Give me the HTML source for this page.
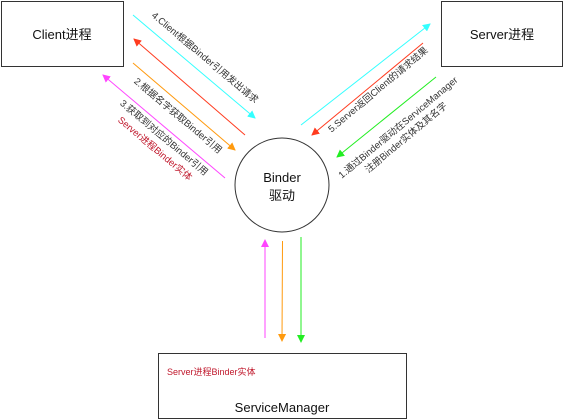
<!DOCTYPE html>
<html><head><meta charset="utf-8"><style>
html,body{margin:0;padding:0;background:#fff;}
svg{display:block;font-family:"Liberation Sans","Noto Sans CJK SC",sans-serif;}
</style></head><body>
<svg width="564" height="420" viewBox="0 0 564 420" xmlns="http://www.w3.org/2000/svg">
<defs>
<marker id="ac" markerWidth="8" markerHeight="8" refX="7" refY="4" orient="auto" markerUnits="userSpaceOnUse"><path d="M0,0 L8,4 L0,8 Z" fill="#33ffff"/></marker>
<marker id="ar" markerWidth="8" markerHeight="8" refX="7" refY="4" orient="auto" markerUnits="userSpaceOnUse"><path d="M0,0 L8,4 L0,8 Z" fill="#ff3b1f"/></marker>
<marker id="ao" markerWidth="8" markerHeight="8" refX="7" refY="4" orient="auto" markerUnits="userSpaceOnUse"><path d="M0,0 L8,4 L0,8 Z" fill="#ff9a0e"/></marker>
<marker id="am" markerWidth="8" markerHeight="8" refX="7" refY="4" orient="auto" markerUnits="userSpaceOnUse"><path d="M0,0 L8,4 L0,8 Z" fill="#ff44ff"/></marker>
<marker id="ag" markerWidth="8" markerHeight="8" refX="7" refY="4" orient="auto" markerUnits="userSpaceOnUse"><path d="M0,0 L8,4 L0,8 Z" fill="#22ee22"/></marker>
</defs>
<g fill="none" stroke="#333" stroke-width="1">
<rect x="1.5" y="1.5" width="122" height="65"/>
<rect x="441.5" y="1.5" width="121" height="65"/>
<rect x="158.5" y="353.5" width="248" height="65"/>
<circle cx="282" cy="185" r="47"/>
</g>
<g font-size="13" fill="#111" text-anchor="middle">
<text x="62" y="39">Client进程</text>
<text x="502" y="39">Server进程</text>
<text x="282" y="182">Binder</text>
<text x="282" y="200">驱动</text>
<text x="282" y="412">ServiceManager</text>
</g>
<text x="167" y="375" font-size="9" fill="#c0182c">Server进程Binder实体</text>
<g stroke-width="1" fill="none">
<line x1="133" y1="15" x2="255" y2="118" stroke="#33ffff" marker-end="url(#ac)"/>
<line x1="245" y1="135" x2="134" y2="39" stroke="#ff3b1f" marker-end="url(#ar)"/>
<line x1="133" y1="63" x2="235" y2="150" stroke="#ff9a0e" marker-end="url(#ao)"/>
<line x1="225" y1="178" x2="103" y2="75" stroke="#ff44ff" marker-end="url(#am)"/>
<line x1="301" y1="125" x2="430" y2="24" stroke="#33ffff" marker-end="url(#ac)"/>
<line x1="423" y1="43" x2="312" y2="135" stroke="#ff3b1f" marker-end="url(#ar)"/>
<line x1="436" y1="77" x2="337" y2="157" stroke="#22ee22" marker-end="url(#ag)"/>
<line x1="265" y1="338" x2="265" y2="240" stroke="#ff44ff" marker-end="url(#am)"/>
<line x1="282.5" y1="241" x2="282" y2="341" stroke="#ff9a0e" marker-end="url(#ao)"/>
<line x1="301" y1="237" x2="301" y2="342" stroke="#22ee22" marker-end="url(#ag)"/>
</g>
<g font-size="9.5" fill="#333" text-anchor="middle">
<text transform="translate(203,60) rotate(40)">4.Client根据Binder引用发出请求</text>
<text transform="translate(176,118) rotate(40)">2.根据名字获取Binder引用</text>
<text transform="translate(162,140) rotate(40)">3.获取到对应的Binder引用</text>
<text transform="translate(153,151) rotate(40)" fill="#c0182c">Server进程Binder实体</text>
<text transform="translate(380,92) rotate(-40)">5.Server返回Client的请求结果</text>
<text transform="translate(400,130) rotate(-40)">1.通过Binder驱动在ServiceManager</text>
<text transform="translate(408,140) rotate(-40)">注册Binder实体及其名字</text>
</g>
</svg>
</body></html>
